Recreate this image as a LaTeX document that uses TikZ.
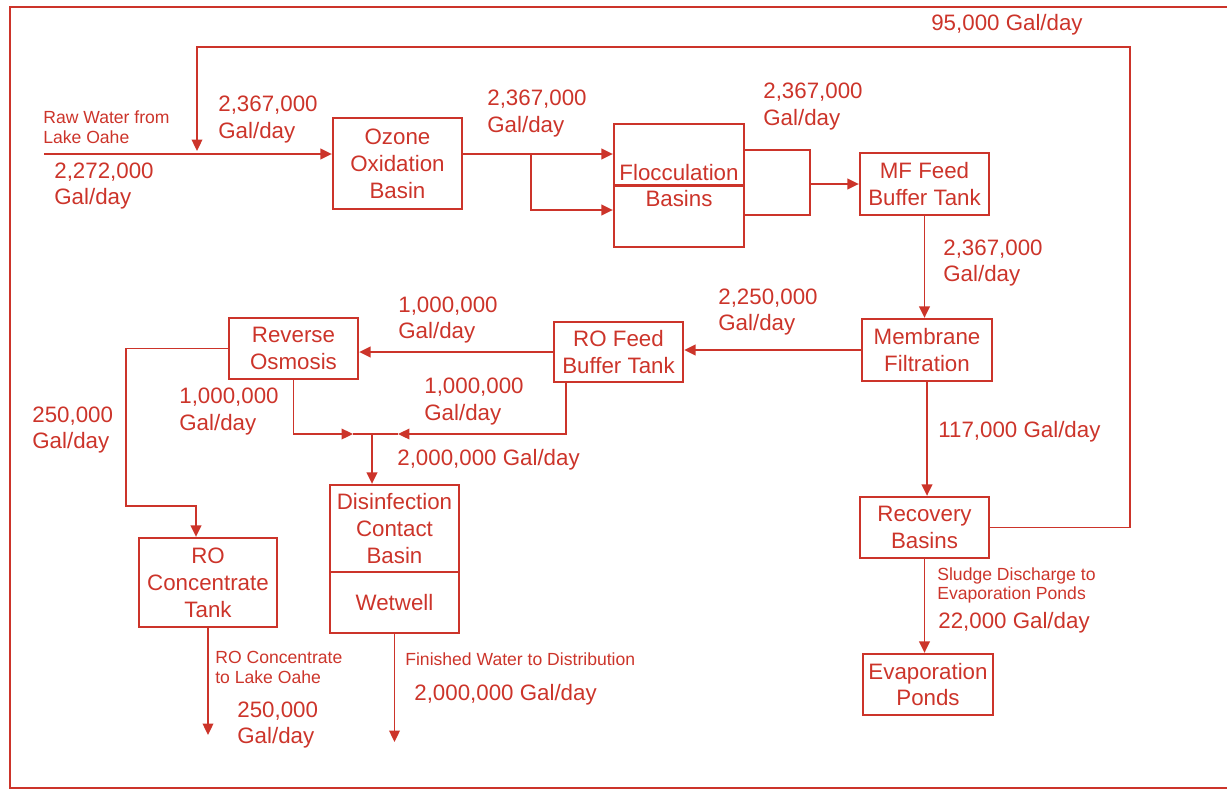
\documentclass[tikz,border=0pt]{standalone}
\usepackage{fontspec}
\setmainfont{Liberation Sans}
\usetikzlibrary{arrows.meta}
\definecolor{plantred}{RGB}{204,52,42}
\newcommand{\bigfont}{\fontsize{12.7}{15.3}\selectfont}
\newcommand{\smallfont}{\fontsize{10}{11.3}\selectfont}
\tikzset{
  unit/.style={draw=plantred, line width=1.3pt, align=center, inner sep=0pt, text=plantred, font=\bigfont},
  pipe/.style={draw=plantred, line width=1.1pt},
  flow/.style={pipe, -{Triangle[length=6.5pt,width=6pt]}},
  rate/.style={anchor=west, align=left, inner sep=0pt, text=plantred, font=\bigfont},
  note/.style={anchor=west, align=left, inner sep=0pt, text=plantred, font=\smallfont},
}
\begin{document}
\begin{tikzpicture}[x=0.02cm, y=-0.02cm]
\useasboundingbox (0,0) rectangle (1227,791);
% frame
\draw[pipe, line width=1.3pt] (1227,7) -- (10,7) -- (10,788) -- (1227,788);

% treatment units
\node[unit, minimum width=2.58cm, minimum height=1.82cm] (ozone) at (397.5,163.5) {Ozone\\Oxidation\\Basin};
\node[unit, minimum width=2.6cm, minimum height=2.46cm] (floc) at (679,185.5) {Flocculation\\Basins};
\draw[pipe, line width=1.3pt] (floc.west) -- (floc.east);
\node[unit, minimum width=2.58cm, minimum height=1.24cm] (mffeed) at (924.5,184) {MF Feed\\Buffer Tank};
\node[unit, minimum width=2.6cm, minimum height=1.24cm] (membrane) at (927,350) {Membrane\\Filtration};
\node[unit, minimum width=2.58cm, minimum height=1.22cm] (recovery) at (924.5,527.5) {Recovery\\Basins};
\node[unit, minimum width=2.6cm, minimum height=1.22cm] (evap) at (928,684.5) {Evaporation\\Ponds};
\node[unit, minimum width=2.58cm, minimum height=1.2cm] (rofeed) at (618.5,352) {RO Feed\\Buffer Tank};
\node[unit, minimum width=2.58cm, minimum height=1.22cm] (revosm) at (293.5,348.5) {Reverse\\Osmosis};
\node[unit, minimum width=2.58cm, minimum height=1.74cm] (disinf) at (394.5,528.5) {Disinfection\\Contact\\Basin};
\node[unit, minimum width=2.58cm, minimum height=1.22cm] (wetwell) at (394.5,602.5) {Wetwell};
\node[unit, minimum width=2.76cm, minimum height=1.78cm] (roconc) at (208,582.5) {RO\\Concentrate\\Tank};

% raw water and recycle
\coordinate (rawin) at (44,154);
\draw[flow] (rawin) -- (rawin -| ozone.west);
\coordinate (loopR) at (1130,47);
\coordinate (loopL) at (197,47);
\coordinate (loopin) at (197,151);
\draw[flow] (recovery.east) -| (loopR) -- (loopL) -- (loopin);

% ozone to flocculation
\coordinate (split) at (531,154);
\coordinate (splitlow) at (531,210);
\draw[pipe] (ozone.east |- split) -- (split);
\draw[flow] (split) -- (split -| floc.west);
\draw[flow] (split) -- (splitlow) -- (splitlow -| floc.west);

% flocculation to MF feed
\coordinate (ftop) at (810,150);
\coordinate (fbot) at (810,215);
\draw[pipe] (floc.east |- ftop) -- (ftop) -- (fbot) -- (floc.east |- fbot);
\draw[flow] (ftop |- mffeed.west) -- (mffeed.west);

% right hand train
\draw[flow] (mffeed.south) -- (mffeed.south |- membrane.north);
\draw[flow] (membrane.south) -- (membrane.south |- recovery.north);
\draw[flow] (recovery.south) -- (recovery.south |- evap.north);
\draw[flow] (membrane.west) -- (membrane.west -| rofeed.east);
\draw[flow] (rofeed.west) -- (rofeed.west -| revosm.east);

% RO concentrate
\coordinate (concA) at (126,506);
\coordinate (concB) at (196,506);
\draw[flow] (revosm.west) -| (concA) -- (concB) -- (concB |- roconc.north);

% blend to disinfection
\coordinate (blendL) at (353,434);
\coordinate (blendR) at (398,434);
\coordinate (blend) at (372,434);
\draw[flow] (revosm.south) |- (blendL);
\draw[flow] ([xshift=-1.05cm]rofeed.south) |- (blendR);
\draw[pipe] (blendL) -- (blendR);
\draw[flow] (blend) -- (blend |- disinf.north);

% outputs
\coordinate (tolake) at (209,735);
\coordinate (todist) at (393,742);
\draw[flow] (roconc.south) -- (roconc.south |- tolake);
\draw[flow] (wetwell.south) -- (wetwell.south |- todist);

% flow labels
\node[note] (rawlbl) at (43,127) {Raw Water from\\Lake Oahe};
\node[rate] (rawrate) at (54,186) {2,272,000\\Gal/day};
\node[rate] (ozinrate) at (218,119.5) {2,367,000\\Gal/day};
\node[rate] (ozoutrate) at (487,113.5) {2,367,000\\Gal/day};
\node[rate] (flocrate) at (763,106.5) {2,367,000\\Gal/day};
\node[rate] (mfrate) at (943,263) {2,367,000\\Gal/day};
\node[rate] (permrate) at (718,312) {2,250,000\\Gal/day};
\node[rate] (rofeedrate) at (398,320) {1,000,000\\Gal/day};
\node[rate] (rorate) at (179,411.5) {1,000,000\\Gal/day};
\node[rate] (bypassrate) at (424,401.5) {1,000,000\\Gal/day};
\node[rate] (blendrate) at (397,460) {2,000,000 Gal/day};
\node[rate] (concrate) at (32,430) {250,000\\Gal/day};
\node[rate] (washrate) at (938,432) {117,000 Gal/day};
\node[rate, anchor=center] (recyclerate) at (1007,25) {95,000 Gal/day};
\node[note] (sludgelbl) at (937,585.5) {Sludge Discharge to\\Evaporation Ponds};
\node[rate] (sludgerate) at (938,623) {22,000 Gal/day};
\node[note] (lakelbl) at (215,667.5) {RO Concentrate\\to Lake Oahe};
\node[rate] (lakerate) at (237,725) {250,000\\Gal/day};
\node[note] (distlbl) at (405,659) {Finished Water to Distribution};
\node[rate] (distrate) at (414,695) {2,000,000 Gal/day};
\end{tikzpicture}
\end{document}
